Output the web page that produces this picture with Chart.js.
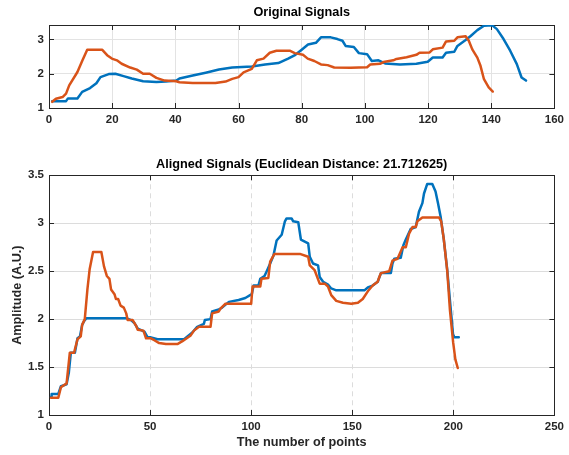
<!DOCTYPE html>
<html>
<head>
<meta charset="utf-8">
<script src="https://cdn.jsdelivr.net/npm/chart.js@4.4.0/dist/chart.umd.min.js"></script>
<style>
    html, body { margin: 0; padding: 0; background: #fff; }
    #topBox { position: absolute; left: 0; top: 0; width: 569px; height: 130px; }
    #bottomBox { position: absolute; left: 0; top: 140px; width: 569px; height: 315px; }
</style>
</head>
<body>
<div id="topBox"><canvas id="origChart"></canvas></div>
<div id="bottomBox"><canvas id="alignedChart"></canvas></div>
<script>
// values, [index, amplitude]
const origBlue = [[1,1.2],[5.4,1.2],[6,1.28],[9,1.28],[10.5,1.47],[13,1.58],[15,1.72],[16.3,1.9],[18.9,1.99],[21,2.0],
    [23.6,1.93],[26.2,1.86],[29.8,1.78],[34,1.76],[37,1.77],[40.3,1.8],[41.3,1.86],[45.5,1.95],[49.6,2.03],[53.8,2.12],
    [58,2.18],[64.2,2.21],[68.4,2.27],[72.6,2.31],[75.7,2.44],[78,2.55],[80,2.7],[82,2.85],[84.5,2.9],[86.1,3.06],
    [89.2,3.06],[91.3,3.01],[92.9,2.96],[93.9,2.81],[96.5,2.78],[98.1,2.6],[100.7,2.57],[102.2,2.37],[104.3,2.39],[106.4,2.3],
    [111.1,2.27],[116.3,2.29],[119.9,2.35],[121.5,2.47],[124.6,2.47],[125.7,2.61],[128.3,2.64],[129.3,2.81],[131.9,2.98],[133.5,3.1],
    [135.6,3.27],[137.7,3.4],[140.3,3.41],[141.8,3.3],[143.9,3.01],[146,2.67],[148.1,2.28],[149.6,1.89],[151,1.8]];
const origOrange = [[1,1.18],[2.2,1.27],[4.3,1.32],[5.4,1.42],[6.4,1.66],[9,2.05],[10.6,2.39],[12.1,2.7],[16.8,2.7],[18.4,2.54],
    [19.9,2.44],[21.5,2.39],[23,2.29],[25.7,2.18],[27.8,2.12],[29.8,2.0],[31.9,2.0],[34,1.88],[36.6,1.8],[40.3,1.78],
    [41.3,1.75],[45.5,1.73],[52.7,1.73],[55.9,1.77],[58,1.85],[60,1.9],[61.6,2.04],[64.2,2.14],[65.8,2.39],[67.9,2.44],
    [69.9,2.61],[72,2.67],[76.2,2.67],[77.8,2.6],[80.4,2.55],[81.9,2.44],[84,2.37],[86.1,2.27],[88.2,2.25],[90.3,2.18],
    [95.5,2.17],[100.7,2.19],[101.7,2.27],[104.8,2.29],[105.9,2.34],[109,2.39],[110,2.43],[113.2,2.48],[116.3,2.55],[117.3,2.61],
    [120.5,2.62],[121.5,2.71],[124.6,2.76],[125.7,2.94],[128.3,2.96],[129.3,3.06],[131.9,3.09],[132.9,2.96],[134,2.71],[135.6,2.47],
    [136.6,2.23],[137.7,1.84],[139.2,1.6],[140.5,1.48]];
const alignedBlue = [[1,1.19],[1.3,1.22],[4.6,1.22],[5.9,1.3],[8.7,1.32],[9.8,1.44],[10.8,1.65],[12.8,1.65],[14.1,1.8],[15.3,1.82],
    [16.4,1.94],[17.4,1.98],[18.5,2.01],[38.2,2.01],[40.6,1.99],[42.2,1.96],[43.9,1.9],[47.2,1.87],[48.8,1.81],[50.4,1.81],
    [53.7,1.79],[66.8,1.79],[70.9,1.86],[73.3,1.92],[76.6,1.95],[77.1,1.99],[79.9,2.0],[80.7,2.08],[84,2.1],[85.6,2.12],
    [89,2.18],[93.8,2.2],[97.1,2.22],[100.3,2.26],[101.2,2.35],[103.6,2.35],[104.5,2.42],[106.6,2.45],[107.7,2.5],[109.4,2.58],
    [111,2.66],[112.6,2.82],[115.1,2.88],[116.7,3.02],[117.5,3.05],[120,3.05],[120.8,3.02],[123.3,3.01],[124.6,2.83],[128.2,2.79],
    [129,2.65],[130.6,2.58],[133.1,2.56],[133.9,2.44],[135.6,2.39],[138,2.36],[139.6,2.32],[142.1,2.3],[156,2.3],[157.7,2.33],
    [160.1,2.35],[162.6,2.39],[164.2,2.48],[169.1,2.48],[169.9,2.58],[170.8,2.63],[174,2.64],[175.3,2.77],[176.5,2.83],[178.9,2.94],
    [181.4,2.96],[183,3.12],[184.7,3.21],[185.5,3.31],[187.1,3.41],[189.6,3.41],[191.2,3.33],[192.4,3.21],[193.7,3.07],[195.3,2.83],
    [197,2.51],[198.3,2.2],[199.9,1.83],[200.2,1.81],[202.7,1.81]];
const alignedOrange = [[1,1.18],[4.6,1.18],[5.9,1.29],[8.7,1.33],[10.3,1.65],[12.4,1.65],[14.1,1.79],[15.7,1.82],[16.4,1.94],[17.7,2.0],
    [19,2.31],[20.1,2.52],[21.8,2.7],[25.9,2.7],[27.2,2.55],[28.6,2.45],[29.9,2.42],[30.7,2.31],[32.4,2.26],[33.1,2.21],
    [34.2,2.21],[35.4,2.14],[37,2.12],[38.2,2.06],[38.9,1.99],[41.4,1.99],[43.1,1.93],[43.9,1.89],[46.7,1.88],[48,1.8],
    [50.4,1.8],[52.1,1.78],[54.5,1.75],[57.8,1.74],[63.5,1.74],[66,1.77],[70.1,1.83],[71.7,1.88],[74.2,1.92],[79.9,1.92],
    [80.7,2.06],[84,2.08],[84.8,2.11],[87.3,2.16],[100,2.16],[100.7,2.34],[104.5,2.34],[105.1,2.42],[108.5,2.43],[109.4,2.6],
    [111.5,2.68],[124.1,2.68],[128.2,2.65],[129,2.56],[131.4,2.51],[133.9,2.37],[136.4,2.37],[138,2.34],[139.6,2.25],[142.1,2.19],
    [145.4,2.17],[149.5,2.16],[152.8,2.17],[155.2,2.21],[157.7,2.29],[160.1,2.35],[162.6,2.39],[163.4,2.44],[164.2,2.48],[168.3,2.5],
    [169.9,2.61],[172.4,2.63],[174.9,2.75],[176.5,2.75],[178.1,2.89],[179.8,2.96],[181.4,2.96],[182.2,3.02],[184.7,3.06],[192.9,3.06],
    [194,3.02],[195.3,2.83],[197,2.5],[198.3,2.1],[199.9,1.76],[201,1.58],[202.2,1.49]];

const topTitle = 'Original Signals';
const bottomTitle = 'Aligned Signals (Euclidean Distance: 21.712625)';
const yLabel = 'Amplitude (A.U.)';
const xLabel = 'The number of points';

const BLUE = '#0072BD';
const ORANGE = '#D95319';
const TEXT = '#262626';
const FONT = '"Liberation Sans", Arial, Helvetica, sans-serif';

// matlab style box with inward ticks
const boxPlugin = {
    id: 'matlabBox',
    beforeDatasetsDraw(chart) {
        const a = chart.chartArea;
        const ctx = chart.ctx;
        const len = 5;
        ctx.save();
        ctx.strokeStyle = TEXT;
        ctx.lineWidth = 1;
        ctx.beginPath();
        chart.scales.x.ticks.forEach(function (t) {
            const px = Math.round(chart.scales.x.getPixelForValue(t.value)) + 0.5;
            ctx.moveTo(px, a.bottom); ctx.lineTo(px, a.bottom - len);
            ctx.moveTo(px, a.top); ctx.lineTo(px, a.top + len);
        });
        chart.scales.y.ticks.forEach(function (t) {
            const py = Math.round(chart.scales.y.getPixelForValue(t.value)) + 0.5;
            ctx.moveTo(a.left, py); ctx.lineTo(a.left + len, py);
            ctx.moveTo(a.right, py); ctx.lineTo(a.right - len, py);
        });
        ctx.stroke();
        ctx.strokeRect(Math.round(a.left) + 0.5, Math.round(a.top) + 0.5,
            Math.round(a.right - a.left), Math.round(a.bottom - a.top));
        ctx.restore();
    }
};

function toPoints(list) {
    return list.map(function (p) { return { x: p[0], y: p[1] }; });
}

// plain numbers like matlab: 1, 1.5, 2 ...
function plainTick(v) {
    return String(Math.round(v * 10) / 10);
}

function makeChart(id, cfg) {
    return new Chart(document.getElementById(id), {
        type: 'line',
        data: {
            datasets: [
                { data: toPoints(cfg.blue), borderColor: BLUE, order: 2 },
                { data: toPoints(cfg.orange), borderColor: ORANGE, order: 1 }
            ]
        },
        options: {
            responsive: true,
            maintainAspectRatio: false,
            animation: false,
            elements: {
                point: { radius: 0 },
                line: { borderWidth: 2.5, tension: 0, borderJoinStyle: 'round', borderCapStyle: 'round' }
            },
            layout: { padding: { left: 0, right: 10.5, top: 0, bottom: 0 } },
            plugins: {
                legend: { display: false },
                tooltip: { enabled: false },
                title: {
                    display: true,
                    text: cfg.title,
                    fullSize: false,
                    color: '#000',
                    font: { family: FONT, size: 12.7, weight: 'bold' },
                    padding: cfg.titlePadding
                }
            },
            scales: {
                x: {
                    type: 'linear',
                    min: cfg.xMin,
                    max: cfg.xMax,
                    afterFit: function (s) { s.height = cfg.xHeight; },
                    ticks: {
                        stepSize: cfg.xStep,
                        color: TEXT,
                        padding: 5,
                        maxRotation: 0,
                        callback: plainTick,
                        font: { family: FONT, size: 11.5, weight: 'bold' }
                    },
                    grid: { color: cfg.gridColor, drawTicks: false },
                    border: { display: false, dash: cfg.xDash },
                    title: {
                        display: !!cfg.xLabel,
                        text: cfg.xLabel,
                        color: TEXT,
                        font: { family: FONT, size: 12.7, weight: 'bold' },
                        padding: { top: 0, bottom: 4.5 }
                    }
                },
                y: {
                    type: 'linear',
                    min: cfg.yMin,
                    max: cfg.yMax,
                    afterFit: function (s) { s.width = 49; },
                    ticks: {
                        stepSize: cfg.yStep,
                        includeBounds: false,
                        color: TEXT,
                        padding: 5,
                        callback: plainTick,
                        font: { family: FONT, size: 11.5, weight: 'bold' }
                    },
                    grid: { color: cfg.gridColor, drawTicks: false },
                    border: { display: false },
                    title: {
                        display: !!cfg.yLabel,
                        text: cfg.yLabel,
                        color: TEXT,
                        font: { family: FONT, size: 12.7, weight: 'bold' },
                        padding: { top: 9.9, bottom: 0 }
                    }
                }
            }
        },
        plugins: [boxPlugin]
    });
}

makeChart('origChart', {
    blue: origBlue, orange: origOrange, title: topTitle,
    titlePadding: { top: 4.9, bottom: 4.86 },
    xMin: 0, xMax: 160, xStep: 20, yMin: 1, yMax: 3.42, yStep: 1,
    xHeight: 22, gridColor: '#e3e3e3', xDash: []
});

makeChart('alignedChart', {
    blue: alignedBlue, orange: alignedOrange, title: bottomTitle,
    titlePadding: { top: 16.9, bottom: 3.16 },
    xMin: 0, xMax: 250, xStep: 50, yMin: 1, yMax: 3.5, yStep: 0.5,
    xHeight: 40, gridColor: '#dcdcdc', xDash: [5, 4],
    xLabel: xLabel, yLabel: yLabel
});
</script>
</body>
</html>
